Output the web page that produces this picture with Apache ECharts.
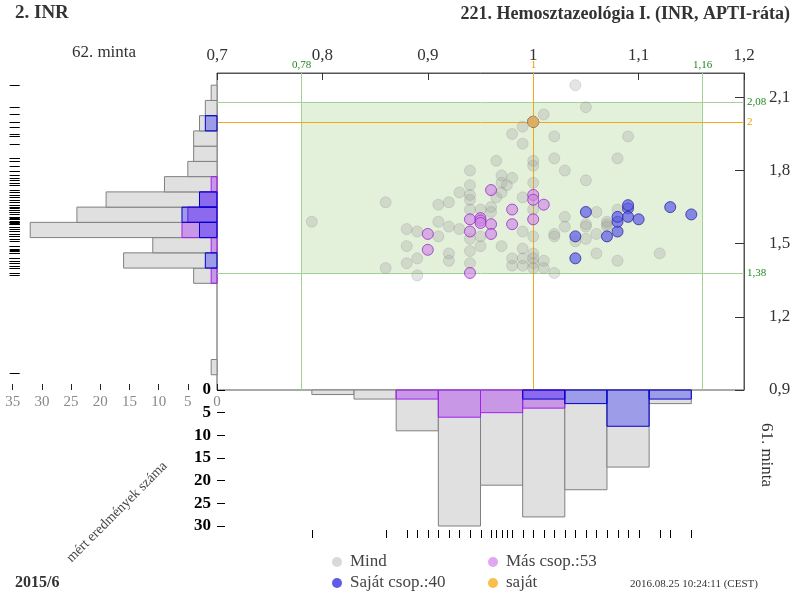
<!DOCTYPE html>
<html><head><meta charset="utf-8">
<script src="https://cdn.jsdelivr.net/npm/echarts@6/dist/echarts.min.js"></script>
<style>html,body{margin:0;padding:0;background:#fff}#c{width:800px;height:600px}</style>
</head><body><div id="c"></div>
<script>
// ---------------- DATA ----------------
var xTickLabels = [0.7, 0.8, 0.9, 1.0, 1.1, 1.2];
var yTickLabels = [0.9, 1.2, 1.5, 1.8, 2.1];
var leftCountTicks = [0, 5, 10, 15, 20, 25, 30, 35];
var bottomCountTicks = [0, 5, 10, 15, 20, 25, 30];

var targetX = 1.0, targetY = 2.0;          // saját (own) result
var rangeX = [0.78, 1.16];                  // acceptable range, x sample
var rangeY = [1.38, 2.08];                  // acceptable range, y sample

var legendNames = ['Mind', 'Saját csop.:40', 'Más csop.:53', 'saját'];

var mindPoints = [
 [0.79,1.59],
 [0.86,1.67],[0.86,1.40],
 [0.88,1.56],[0.88,1.49],[0.88,1.42],
 [0.89,1.55],[0.89,1.44],[0.89,1.37],
 [0.91,1.66],[0.91,1.59],[0.91,1.53],
 [0.92,1.67],[0.92,1.57],[0.92,1.46],[0.92,1.43],
 [0.93,1.71],[0.93,1.56],
 [0.94,1.80],[0.94,1.74],[0.94,1.70],[0.94,1.68],[0.94,1.64],[0.94,1.52],[0.94,1.47],[0.94,1.42],
 [0.95,1.64],[0.95,1.53],[0.95,1.49],
 [0.96,1.65],[0.96,1.63],
 [0.965,1.84],[0.965,1.69],
 [0.97,1.78],[0.97,1.75],[0.975,1.74],[0.97,1.71],[0.97,1.49],
 [0.98,1.95],[0.98,1.77],[0.98,1.44],[0.98,1.41],
 [0.99,1.98],[0.99,1.91],[0.99,1.69],[0.99,1.55],[0.99,1.48],[0.99,1.44],[0.99,1.41],
 [1.00,1.84],[1.00,1.82],[1.00,1.75],[1.00,1.64],[1.00,1.53],[1.00,1.46],[1.00,1.44],[1.00,1.42],[1.00,1.40],
 [1.01,2.03],[1.01,1.43],[1.01,1.40],
 [1.02,1.94],[1.02,1.85],[1.02,1.54],[1.02,1.53],[1.02,1.38],
 [1.03,1.80],[1.03,1.61],[1.03,1.57],
 [1.04,2.15],[1.04,1.51],
 [1.05,2.06],[1.05,1.76],[1.05,1.58],[1.05,1.57],[1.05,1.52],
 [1.06,1.63],[1.06,1.54],[1.06,1.46],
 [1.07,1.59],[1.07,1.58],[1.07,1.57],
 [1.08,1.85],[1.08,1.64],[1.08,1.43],
 [1.09,1.94],
 [1.12,1.46]
];
var masPoints = [
 [0.90,1.54],[0.90,1.475],[0.94,1.60],[0.94,1.55],[0.94,1.38],[0.95,1.605],[0.95,1.595],[0.95,1.585],
 [0.96,1.72],[0.96,1.58],[0.96,1.54],[0.98,1.64],[0.98,1.58],[1.00,1.70],[1.00,1.68],[1.00,1.60],[1.01,1.66]
];
var sajatCsopPoints = [
 [1.00,2.00],[1.00,2.00],[1.04,1.44],[1.04,1.53],[1.05,1.63],[1.07,1.53],[1.08,1.55],[1.08,1.59],
 [1.08,1.61],[1.09,1.645],[1.09,1.658],[1.09,1.61],[1.10,1.60],[1.13,1.65],[1.15,1.62]
];
var sajatPoint = [[1.00, 2.00]];
var outOfRangeY = [0.97];   // result only seen on the y rug

// left histogram (y sample) bins
var leftEdges = [0.9625,1.025,1.0875,1.15,1.2125,1.275,1.3375,1.4,1.4625,1.525,1.5875,1.65,1.7125,1.775,1.8375,1.9,1.9625,2.025,2.0875,2.15];
var leftMind  = [1,0,0,0,0,0,4,16,11,32,24,19,9,5,4,4,3,2,1];
var leftMas   = [0,0,0,0,0,0,1,0,1,6,5,3,1,0,0,0,0,0,0];
var leftSajat = [0,0,0,0,0,0,0,2,0,3,6,3,0,0,0,0,2,0,0];

// bottom histogram (x sample) bins
var bottomEdges = [0.79,0.83,0.87,0.91,0.95,0.99,1.03,1.07,1.11,1.15];
var bottomMind  = [1,2,9,30,21,28,22,17,3];
var bottomMas   = [0,0,2,6,5,4,0,0,0];
var bottomSajat = [0,0,0,0,0,2,3,8,2];

// ---------------- BUILD ----------------
var FONT = 'Liberation Serif';
function comma(v){ return String(+v.toFixed(2)).replace('.', ','); }
function inList(list, v){ for (var i=0;i<list.length;i++) if (Math.abs(list[i]-v) < 1e-6) return true; return false; }

function bins(edges, counts){
  var out = [];
  for (var i=0;i<counts.length;i++) out.push([edges[i], edges[i+1], counts[i]]);
  return out;
}
function barRender(horizontal, fill, stroke){
  return function(params, api){
    var lo = api.value(0), hi = api.value(1), n = api.value(2);
    if (!n) return null;
    var p1, p2;
    if (horizontal){ p1 = api.coord([0, lo]); p2 = api.coord([n, hi]); }
    else { p1 = api.coord([lo, 0]); p2 = api.coord([hi, n]); }
    return {type:'rect', shape:{x:Math.min(p1[0],p2[0]), y:Math.min(p1[1],p2[1]),
      width:Math.abs(p2[0]-p1[0]), height:Math.abs(p2[1]-p1[1])},
      style:{fill:fill, stroke:stroke, lineWidth:1}};
  };
}
var allPts = mindPoints.concat(masPoints, sajatCsopPoints);
var rugY = allPts.map(function(p){return [p[1]];}).concat(outOfRangeY.map(function(v){return [v];}));
var rugX = allPts.map(function(p){return [p[0]];});

var grayFill = '#e0e0e0', grayStroke = '#808080';
var masFill = 'rgba(160,32,240,0.375)', masStroke = '#a020f0';
var sajFill = 'rgba(0,0,255,0.3)', sajStroke = '#0000c8';

var series = [];
[[leftMind,grayFill,grayStroke],[leftMas,masFill,masStroke],[leftSajat,sajFill,sajStroke]].forEach(function(s, i){
  series.push({type:'custom', xAxisIndex:1, yAxisIndex:1, silent:true, z:2+i,
    renderItem: barRender(true, s[1], s[2]), data: bins(leftEdges, s[0])});
});
[[bottomMind,grayFill,grayStroke],[bottomMas,masFill,masStroke],[bottomSajat,sajFill,sajStroke]].forEach(function(s, i){
  series.push({type:'custom', xAxisIndex:2, yAxisIndex:2, silent:true, z:2+i,
    renderItem: barRender(false, s[1], s[2]), data: bins(bottomEdges, s[0])});
});
series.push({type:'custom', xAxisIndex:1, yAxisIndex:1, silent:true, z:2,
  renderItem:function(p, api){ var c = api.coord([35, api.value(0)]); var y = Math.round(c[1])+0.5;
    return {type:'line', shape:{x1:c[0]-3, y1:y, x2:c[0]+7, y2:y}, style:{stroke:'#000', lineWidth:1}}; },
  data: rugY});
series.push({type:'custom', xAxisIndex:2, yAxisIndex:2, silent:true, z:2,
  renderItem:function(p, api){ var c = api.coord([api.value(0), 30]); var x = Math.round(c[0])+0.5;
    return {type:'line', shape:{x1:x, y1:c[1]+4, x2:x, y2:c[1]+12}, style:{stroke:'#000', lineWidth:1}}; },
  data: rugX});

// acceptable band
series.push({type:'scatter', xAxisIndex:0, yAxisIndex:0, data:[[0.7,0.9]], symbolSize:0, silent:true, z:1,
  markArea:{silent:true, itemStyle:{color:'#e3f0da'}, data:[[{coord:[rangeX[0], rangeY[0]]},{coord:[rangeX[1], rangeY[1]]}]]}});

// reference lines (crisp, through axis scale) with their value labels
var green = '#a3d296', greenTxt = '#1f8a1f', orange = '#f5a815', orangeTxt = '#eaa000';
var refLines = [
  [0, rangeX[0], green, greenTxt], [0, rangeX[1], green, greenTxt],
  [1, rangeY[0], green, greenTxt], [1, rangeY[1], green, greenTxt],
  [0, targetX, orange, orangeTxt], [1, targetY, orange, orangeTxt]
];
series.push({type:'custom', xAxisIndex:0, yAxisIndex:0, silent:true, z:3,
  renderItem:function(params, api){
    var i = params.dataIndex, r = refLines[i];
    var cs = params.coordSys, v = api.value(1);
    if (api.value(0) === 0){
      var x = Math.round(api.coord([v, 1.5])[0]) + 0.5;
      return {type:'group', children:[
        {type:'line', shape:{x1:x, y1:cs.y, x2:x, y2:cs.y+cs.height}, style:{stroke:r[2], lineWidth:1}},
        {type:'text', x:x, y:cs.y-2, style:{text:comma(v), fill:r[3], fontSize:11, fontFamily:FONT, align:'center', verticalAlign:'bottom'}}
      ]};
    } else {
      var y = Math.round(api.coord([1, v])[1]) + 0.5;
      return {type:'group', children:[
        {type:'line', shape:{x1:cs.x, y1:y, x2:cs.x+cs.width, y2:y}, style:{stroke:r[2], lineWidth:1}},
        {type:'text', x:cs.x+cs.width+3, y:y, style:{text:comma(v), fill:r[3], fontSize:11, fontFamily:FONT, align:'left', verticalAlign:'middle'}}
      ]};
    }
  },
  data: refLines.map(function(r){ return [r[0], r[1]]; })});

var colMind = {color:'rgba(150,150,150,0.3)', borderColor:'rgba(130,130,130,0.3)', borderWidth:1};
var colMas = {color:'rgba(205,135,228,0.8)', borderColor:'#9a30c8', borderWidth:1};
var colSaj = {color:'rgba(95,95,230,0.9)', borderColor:'#2a2aa0', borderWidth:1};
var colOwn = {color:'#f8c04a', borderColor:'#eaa830', borderWidth:1};
series.push({type:'scatter', name:legendNames[0], xAxisIndex:0, yAxisIndex:0, data:mindPoints, symbolSize:11, z:5, silent:true, itemStyle:colMind});
series.push({type:'scatter', name:legendNames[2], xAxisIndex:0, yAxisIndex:0, data:masPoints, symbolSize:11, z:6, silent:true, itemStyle:colMas});
series.push({type:'scatter', name:legendNames[1], xAxisIndex:0, yAxisIndex:0, data:sajatCsopPoints, symbolSize:11, z:7, silent:true, itemStyle:colSaj});
series.push({type:'scatter', name:legendNames[3], xAxisIndex:0, yAxisIndex:0, data:sajatPoint, symbolSize:11, z:8, silent:true, itemStyle:colOwn});

// legend drawn as graphic (two columns)
var legendCols = ['#d9d9d9', '#5c5ce6', '#e2a6f2', '#f8c04a'];
var legendPos = [[337,562],[337,583],[493,562],[493,583]];
var legendGraphic = [];
legendNames.forEach(function(n, i){
  legendGraphic.push({type:'circle', shape:{cx:legendPos[i][0], cy:legendPos[i][1], r:5}, style:{fill:legendCols[i]}, silent:true});
  legendGraphic.push({type:'text', x:legendPos[i][0]+13, y:legendPos[i][1], style:{text:n, fontSize:17, fontFamily:FONT, fill:'#444', verticalAlign:'middle'}, silent:true});
});

var option = {
  animation:false,
  textStyle:{fontFamily:FONT},
  grid:[
    {left:217, top:73, width:527, height:317, show:true, borderColor:'#555', borderWidth:1, backgroundColor:'rgba(0,0,0,0)'},
    {left:12.7, top:73, width:204.3, height:317},
    {left:217, top:390, width:527, height:136}
  ],
  xAxis:[
    {gridIndex:0, type:'value', min:0.7, max:1.2, interval:0.1, position:'top',
     axisLine:{show:true, lineStyle:{color:'#555'}}, axisTick:{inside:true, length:7, lineStyle:{color:'#333'}},
     axisLabel:{margin:9, fontSize:17, color:'#333', fontFamily:FONT,
       formatter:function(v){ return inList(xTickLabels, v) ? String(+v.toFixed(1)).replace('.', ',') : ''; }},
     splitLine:{show:false}},
    {gridIndex:1, type:'value', min:0, max:35, interval:5, inverse:true, position:'bottom',
     axisLine:{show:false}, axisTick:{inside:true, length:6, lineStyle:{color:'#222'}},
     axisLabel:{margin:5, fontSize:15, color:'#888', fontFamily:FONT,
       formatter:function(v){ return inList(leftCountTicks, v) ? String(v) : ''; }},
     splitLine:{show:false}},
    {gridIndex:2, type:'value', min:0.7, max:1.2, show:false}
  ],
  yAxis:[
    {gridIndex:0, type:'value', min:0.9, max:2.2, interval:0.3, position:'right',
     axisLine:{show:true, lineStyle:{color:'#555'}}, axisTick:{inside:true, length:9, lineStyle:{color:'#333'}},
     axisLabel:{margin:25, fontSize:17, color:'#333', fontFamily:FONT, showMaxLabel:false,
       formatter:function(v){ return inList(yTickLabels, v) ? v.toFixed(1).replace('.', ',') : ''; }},
     splitLine:{show:false}},
    {gridIndex:1, type:'value', min:0.9, max:2.2, show:false},
    {gridIndex:2, type:'value', min:0, max:30, interval:5, inverse:true, position:'left',
     axisLine:{show:false}, axisTick:{inside:true, length:8, lineStyle:{color:'#000'}},
     axisLabel:{margin:6, fontSize:17, color:'#000', fontWeight:'bold', fontFamily:FONT,
       formatter:function(v){ return inList(bottomCountTicks, v) ? String(v) : ''; }},
     splitLine:{show:false}}
  ],
  graphic:[
    {type:'text', left:15, top:4, style:{text:'2. INR', fontSize:19, fontWeight:'bold', fontFamily:FONT, fill:'#333'}},
    {type:'text', right:10, top:5, style:{text:'221. Hemosztazeológia I. (INR, APTI-ráta)', fontSize:18, fontWeight:'bold', fontFamily:FONT, fill:'#333'}},
    {type:'text', x:104, y:53, style:{text:'62. minta', fontSize:17, fontFamily:FONT, fill:'#333', align:'center', verticalAlign:'middle'}},
    {type:'text', x:766, y:455, rotation:-Math.PI/2, style:{text:'61. minta', fontSize:17, fontFamily:FONT, fill:'#333', align:'center', verticalAlign:'middle'}},
    {type:'text', x:117, y:512, rotation:Math.PI/4, style:{text:'mért eredmények száma', fontSize:14, fontFamily:FONT, fill:'#444', align:'center', verticalAlign:'middle'}},
    {type:'text', left:15, top:575, style:{text:'2015/6', fontSize:16, fontWeight:'bold', fontFamily:FONT, fill:'#333'}},
    {type:'text', left:630, top:579, style:{text:'2016.08.25 10:24:11 (CEST)', fontSize:11, fontFamily:FONT, fill:'#333'}}
  ].concat(legendGraphic),
  series: series
};
var chart = echarts.init(document.getElementById('c'), null, {renderer:'canvas'});
chart.setOption(option);
</script></body></html>
